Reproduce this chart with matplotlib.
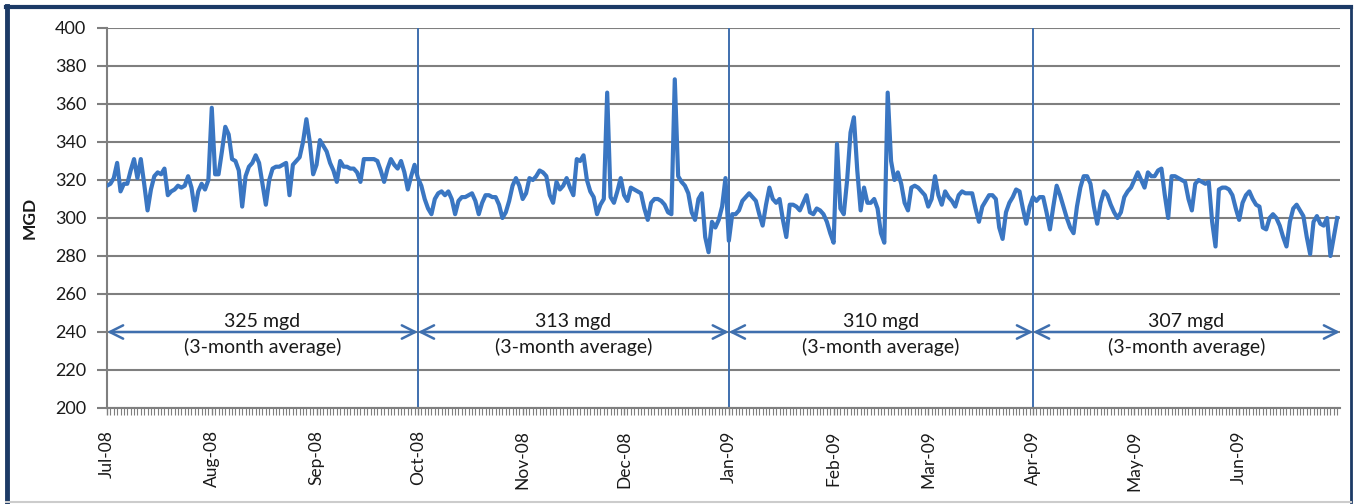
import pandas as pd
import matplotlib
matplotlib.use("Agg")
import matplotlib.pyplot as plt
import matplotlib.dates as mdates
from matplotlib.lines import Line2D

plt.rcParams['font.family'] = ['Lato', 'DejaVu Sans']

# daily flow, MGD
jul08 = [317, 318, 321, 329, 314, 318, 318, 325, 331, 321, 331, 318, 304, 315, 322, 324,
         323, 326, 312, 314, 315, 317, 316, 317, 322, 316, 304, 314, 318, 315, 320]
aug08 = [358, 323, 323, 335, 348, 344, 331, 330, 325, 306, 322, 327, 329, 333, 329, 318,
         307, 320, 326, 327, 327, 328, 329, 312, 328, 330, 332, 340, 352, 340, 323]
sep08 = [328, 341, 338, 335, 329, 325, 319, 330, 327, 327, 326, 326, 324, 319, 331, 331,
         331, 331, 330, 325, 319, 326, 331, 328, 326, 330, 324, 315, 322, 328]
oct08 = [321, 317, 310, 305, 302, 310, 313, 314, 312, 314, 310, 302, 309, 311, 311, 312,
         313, 309, 302, 308, 312, 312, 311, 311, 307, 300, 303, 309, 317, 321, 317]
nov08 = [310, 313, 321, 320, 322, 325, 324, 322, 312, 308, 319, 315, 317, 321, 316, 312,
         331, 330, 333, 320, 314, 311, 302, 307, 310, 366, 311, 308, 314, 321]
dec08 = [312, 309, 316, 315, 314, 313, 305, 299, 308, 310, 310, 309, 307, 303, 302, 373,
         322, 319, 317, 313, 303, 299, 310, 313, 290, 282, 298, 295, 299, 306, 321]
jan09 = [288, 302, 302, 304, 309, 311, 313, 311, 309, 302, 296, 307, 316, 310, 308, 310,
         299, 290, 307, 307, 306, 304, 308, 312, 303, 302, 305, 304, 302, 298, 292]
feb09 = [287, 339, 305, 302, 320, 345, 353, 325, 304, 316, 308, 308, 310, 305, 292, 287,
         366, 330, 320, 324, 318, 308, 304, 316, 317, 316, 314, 312]
mar09 = [306, 310, 322, 312, 307, 314, 311, 309, 306, 312, 314, 313, 313, 313, 305, 298,
         306, 309, 312, 312, 310, 295, 289, 303, 308, 311, 315, 314, 305, 297, 306]
apr09 = [311, 309, 311, 311, 303, 294, 306, 317, 312, 306, 300, 295, 292, 306, 316, 322,
         322, 318, 306, 297, 308, 314, 312, 307, 303, 300, 303, 311, 314, 316]
may09 = [320, 324, 320, 316, 324, 322, 322, 325, 326, 312, 300, 322, 322, 321, 320, 319,
         310, 304, 318, 320, 319, 318, 319, 298, 285, 315, 316, 316, 315, 312, 305]
jun09 = [299, 308, 312, 314, 310, 307, 306, 295, 294, 300, 302, 300, 296, 290, 285, 298,
         305, 307, 304, 301, 290, 281, 298, 301, 297, 296, 300, 280, 290, 300]

flow = jul08 + aug08 + sep08 + oct08 + nov08 + dec08 + jan09 + feb09 + mar09 + apr09 + may09 + jun09
dates = pd.date_range("2008-07-01", periods=len(flow), freq="D")

# quarter boundaries and 3-month averages
quarter_edges = ["2008-07-01", "2008-10-01", "2009-01-01", "2009-04-01", "2009-07-01"]
quarter_avgs = [325, 313, 310, 307]
avg_labels = ["325 mgd", "313 mgd", "310 mgd", "307 mgd"]

line_blue = "#3a76c2"
mark_blue = "#3f6fae"
grid_gray = "#7f7f7f"
text_col = "#1a1a1a"

fig = plt.figure(figsize=(13.54, 5.04), dpi=100)
ax = fig.add_axes([107 / 1354, 1 - 408 / 504, (1340 - 107) / 1354, (408 - 28) / 504])

edges = pd.to_datetime(quarter_edges)
x_left = edges[0]
x_right = pd.Timestamp("2009-06-30") + pd.Timedelta(hours=20)

ax.set_ylim(200, 400)
ax.set_xlim(x_left, x_right)
ax.set_yticks(range(200, 401, 20))
ax.yaxis.grid(True, color=grid_gray, lw=1.5)
ax.set_axisbelow(True)

# quarter dividers
for e in edges[1:4]:
    ax.axvline(e, color=mark_blue, lw=1.4, zorder=1)

ax.plot(dates, flow, color=line_blue, lw=3.0, solid_joinstyle="round", zorder=3)

# average arrows and labels
for i in range(4):
    a = edges[i]
    b = edges[i + 1] if i < 3 else x_right
    ax.annotate("", xy=(b, 240), xytext=(a, 240),
                arrowprops=dict(arrowstyle="<->", color=mark_blue, lw=1.8,
                                mutation_scale=24, shrinkA=0, shrinkB=0),
                annotation_clip=False)
    mid = a + (b - a) / 2
    ax.text(mid, 245.5, avg_labels[i], ha="center", va="center", fontsize=14, color=text_col)
    ax.text(mid, 232, "(3-month average)", ha="center", va="center", fontsize=14, color=text_col)

for s in ["top", "right"]:
    ax.spines[s].set_visible(False)
for s in ["left", "bottom"]:
    ax.spines[s].set_color(grid_gray)
    ax.spines[s].set_linewidth(1.5)

ax.xaxis.set_major_locator(mdates.MonthLocator())
ax.xaxis.set_major_formatter(mdates.DateFormatter("%b-%y"))
ax.xaxis.set_minor_locator(mdates.DayLocator())
ax.tick_params(axis="x", which="major", length=5, width=1.0, color=grid_gray,
               labelrotation=90, labelsize=12.5, pad=11, labelcolor=text_col)
ax.tick_params(axis="x", which="minor", length=5, width=0.8, color=grid_gray)
ax.tick_params(axis="y", length=7, width=1.5, color=grid_gray, labelsize=13, pad=8,
               labelcolor=text_col)
for lbl in ax.get_xticklabels():
    lbl.set_va("top")

ax.set_ylabel("MGD", fontsize=12.5, fontweight="bold", labelpad=12, color=text_col)

# frame around the whole picture
W, H = 1354, 504
navy = "#1c3a66"
fig.add_artist(Line2D([7 / W, 7 / W], [1 - 6 / H, 1 - 502 / H], color=navy, lw=3.5, transform=fig.transFigure))
fig.add_artist(Line2D([6 / W, 1351 / W], [1 - 7 / H, 1 - 7 / H], color=navy, lw=3, transform=fig.transFigure))
fig.add_artist(Line2D([1351 / W, 1351 / W], [1 - 6 / H, 1 - 502 / H], color=navy, lw=2, transform=fig.transFigure))
fig.add_artist(Line2D([6 / W, 1351 / W], [1 - 502 / H, 1 - 502 / H], color="#cccccc", lw=1.5, transform=fig.transFigure))

fig.savefig("out.png", dpi=100)
